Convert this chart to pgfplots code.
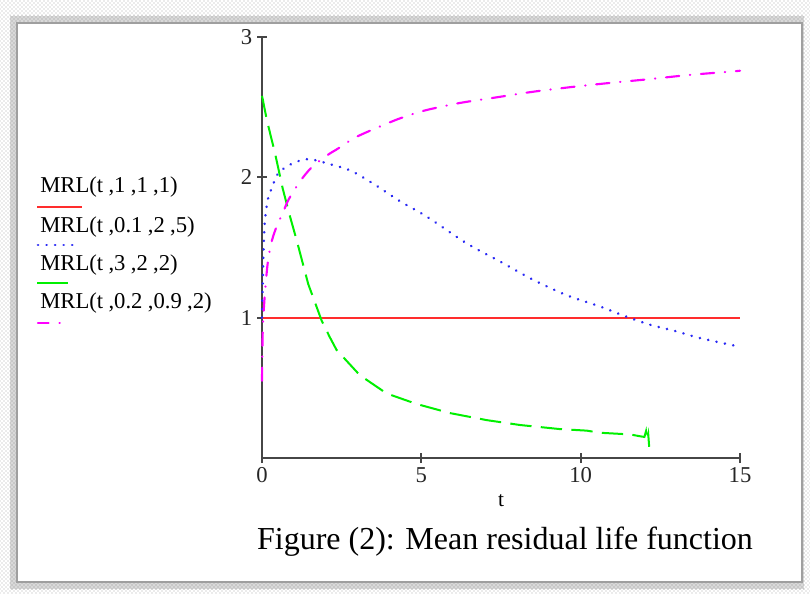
\documentclass[border=0pt]{standalone}
\usepackage{pgfplots}
\pgfplotsset{compat=1.18}
\usepackage{fontspec}
\setmainfont{Liberation Serif}
\usetikzlibrary{patterns}
\definecolor{mred}{RGB}{255,45,45}
\definecolor{mblue}{RGB}{40,40,245}
\definecolor{mgreen}{RGB}{0,240,0}
\definecolor{mmag}{RGB}{255,0,255}
\definecolor{axgray}{RGB}{70,70,70}
\begin{document}
\begin{tikzpicture}
\path[use as bounding box] (0,0) rectangle (607.5pt,444.75pt);
% frame
\fill[white] (0,0) rectangle (607.5pt,444.75pt);
\fill[pattern=crosshatch dots, pattern color=gray!65] (0,0) rectangle (607.5pt,444.75pt);
\fill[gray!30] (7.5pt,3pt) rectangle (603pt,433pt);
\fill[pattern=crosshatch dots, pattern color=gray!85] (7.5pt,3pt) rectangle (603pt,433pt);
\fill[white] (12.75pt,8.25pt) rectangle (601.5pt,427.5pt);
\draw[gray!75, line width=1pt] (12.75pt,8.25pt) rectangle (601.5pt,427.5pt);

\begin{axis}[
  at={(196.5pt,101.25pt)}, anchor=south west,
  scale only axis, width=358.5pt, height=315.75pt,
  xmin=0, xmax=15, ymin=0, ymax=3,
  axis lines*=left,
  axis line style={line width=1.8pt, color=axgray},
  xtick={0,5,10,15}, ytick={1,2,3},
  tick align=center, major tick length=7.5pt,
  tick style={line width=1.3pt, color=axgray},
  ticklabel style={font=\fontsize{17}{17}\selectfont, text=black!85},
  /pgf/number format/assume math mode=true,
  xlabel={t}, xlabel style={font=\fontsize{16}{16}\selectfont, yshift=-2pt},
  clip=false,
]
% MRL(t,1,1,1)
\addplot[mred, line width=1.4pt] coordinates {(0,1) (15,1)};
% MRL(t,0.1,2,5)
\addplot[mblue, line width=2pt, line cap=round, dash pattern=on 0.1pt off 6.3pt, smooth] coordinates {
(0,1.0) (0.02,1.2) (0.04,1.4) (0.06,1.55) (0.09,1.69) (0.18,1.84) (0.30,1.92)
(0.51,2.03) (0.88,2.09) (1.2,2.12) (1.45,2.13) (1.72,2.12) (2.03,2.10) (2.76,2.05)
(3.49,1.955) (4.33,1.83) (5.17,1.72) (6.42,1.53) (7.47,1.40) (8.51,1.27) (9.56,1.16)
(10.6,1.08) (11.4,1.01) (12.17,0.95) (12.96,0.905) (13.74,0.855) (14.84,0.80) (15,0.79)};
% MRL(t,3,2,2)
\addplot[mgreen, line width=1.5pt, dash pattern=on 16pt off 7pt] coordinates {
(0,2.58) (0.02,2.56) (0.15,2.41) (0.41,2.17) (0.65,1.92) (0.88,1.72) (1.09,1.55)
(1.45,1.24) (1.87,0.98) (2.13,0.86) (2.34,0.77) (3.07,0.59) (3.91,0.46) (4.85,0.385)
(5.90,0.32) (7.05,0.27) (8.10,0.235) (9.35,0.206) (10.19,0.195) (10.6,0.18)
(11.55,0.168) (11.86,0.155) (12.0,0.15) (12.05,0.19) (12.08,0.13) (12.12,0.17) (12.15,0.08)};
% MRL(t,0.2,0.9,2)
\addplot[mmag, line width=1.6pt, line cap=round, dash pattern=on 10pt off 8pt on 0.3pt off 8pt, smooth] coordinates {
(0,0.55) (0.01,0.75) (0.03,0.95) (0.09,1.17) (0.18,1.39) (0.30,1.54) (0.46,1.65)
(0.66,1.75) (0.83,1.84) (1.19,1.97) (1.51,2.06) (1.82,2.12) (2.13,2.17) (2.35,2.20)
(2.98,2.29) (4.1,2.40) (4.59,2.44) (5.17,2.48) (6.21,2.53) (7.36,2.57) (8.51,2.61)
(9.77,2.645) (11.02,2.675) (12.17,2.70) (13.43,2.73) (14.79,2.755) (15,2.76)};
\end{axis}

% legend
\begin{scope}[every node/.style={inner sep=0pt, anchor=base west, font=\fontsize{17}{17}\selectfont}]
\node at (30pt,300.5pt) {MRL(t\hspace{4pt},1\hspace{4pt},1\hspace{4pt},1)};
\draw[mred, line width=1.4pt] (27.75pt,289.3pt) -- (61.5pt,289.3pt);
\node at (30pt,270.5pt) {MRL(t\hspace{4pt},0.1\hspace{4pt},2\hspace{4pt},5)};
\draw[mblue, line width=2pt, line cap=round, dash pattern=on 0.1pt off 6.3pt] (28.5pt,261pt) -- (56pt,261pt);
\node at (30pt,242pt) {MRL(t\hspace{4pt},3\hspace{4pt},2\hspace{4pt},2)};
\draw[mgreen, line width=1.5pt] (27.75pt,232.3pt) -- (51pt,232.3pt);
\node at (30pt,213pt) {MRL(t\hspace{4pt},0.2\hspace{4pt},0.9\hspace{4pt},2)};
\draw[mmag, line width=1.6pt, line cap=round, dash pattern=on 8pt off 8pt on 0.3pt off 8pt] (28.5pt,202.7pt) -- (52pt,202.7pt);
\end{scope}

% caption
\node[inner sep=0pt, anchor=base, font=\fontsize{24}{24}\selectfont] at (378.75pt,33pt) {Figure (2): Mean residual life function};
\end{tikzpicture}
\end{document}
